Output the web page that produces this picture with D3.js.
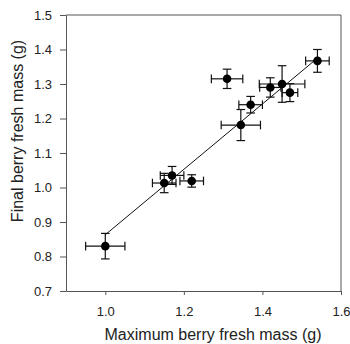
<!doctype html>
<html>
  <head>
    <script src="https://cdnjs.cloudflare.com/ajax/libs/d3/7.8.5/d3.min.js"></script>
    <style>
      body { margin: 0; background: #fff; }
      text { font-family: "Liberation Sans", Arial, sans-serif; fill: #222; }
    </style>
  </head>
  <body>
    <svg id="chart" width="350" height="344"></svg>
    <script>
        // values
        var maxMass   = [1.00, 1.15, 1.17, 1.22, 1.345, 1.37, 1.31, 1.42, 1.45, 1.47, 1.54];
        var finalMass = [0.83, 1.013, 1.035, 1.019, 1.181, 1.24, 1.315, 1.29, 1.30, 1.275, 1.367];
        var maxErr    = [0.05, 0.03, 0.03, 0.03, 0.05, 0.03, 0.04, 0.027, 0.058, 0.02, 0.03];
        var finalErr  = [0.037, 0.028, 0.026, 0.018, 0.045, 0.024, 0.028, 0.028, 0.053, 0.026, 0.033];

        // regression line
        var fitSlope = 0.948;
        var fitIntercept = -0.085;
        var fitRange = [1.0, 1.537];

        var xTicks = [1.0, 1.2, 1.4, 1.6];
        var yTicks = [0.7, 0.8, 0.9, 1.0, 1.1, 1.2, 1.3, 1.4, 1.5];

        var data = maxMass.map((d, i) => ({x: d, y: finalMass[i], ex: maxErr[i], ey: finalErr[i]}));

        var margin = {top: 15, right: 9, bottom: 53, left: 66};
        var width = 350 - margin.left - margin.right;
        var height = 344 - margin.top - margin.bottom;

        var svg = d3.select("#chart");
        var g = svg.append("g")
            .attr("transform", "translate(" + margin.left + "," + margin.top + ")");

        var xScale = d3.scaleLinear().domain([0.9, 1.6]).range([0, width]);
        var yScale = d3.scaleLinear().domain([0.7, 1.5]).range([height, 0]);

        var axisColor = "#555";

        var xAxis = d3.axisBottom(xScale)
            .tickValues(xTicks)
            .tickFormat(d3.format(".1f"))
            .tickSize(4)
            .tickPadding(12)
            .tickSizeOuter(0);

        var yAxis = d3.axisLeft(yScale)
            .tickValues(yTicks)
            .tickFormat(d3.format(".1f"))
            .tickSize(6)
            .tickPadding(8)
            .tickSizeOuter(0);

        var gx = g.append("g")
            .attr("transform", "translate(0," + height + ")")
            .call(xAxis);
        var gy = g.append("g").call(yAxis);

        [gx, gy].forEach(function(a){
            a.selectAll("path, line").attr("stroke", axisColor);
            a.selectAll("text")
                .style("font-size", "13px")
                .style("font-family", "Liberation Sans, Arial, sans-serif")
                .attr("fill", "#333");
        });

        // top and right frame
        g.append("line")
            .attr("x1", 0).attr("x2", width)
            .attr("y1", 0).attr("y2", 0)
            .attr("stroke", axisColor);
        g.append("line")
            .attr("x1", width).attr("x2", width)
            .attr("y1", 0).attr("y2", height)
            .attr("stroke", axisColor);

        // regression line
        g.append("line")
            .attr("x1", xScale(fitRange[0]))
            .attr("y1", yScale(fitIntercept + fitSlope * fitRange[0]))
            .attr("x2", xScale(fitRange[1]))
            .attr("y2", yScale(fitIntercept + fitSlope * fitRange[1]))
            .attr("stroke", "#111")
            .attr("stroke-width", 1);

        var cap = 4.3;
        var bars = g.selectAll(".err")
            .data(data)
            .enter()
            .append("g")
            .attr("class", "err")
            .attr("stroke", "#111")
            .attr("stroke-width", 1.2);

        // horizontal error bars
        bars.append("line")
            .attr("x1", d => xScale(d.x - d.ex)).attr("x2", d => xScale(d.x + d.ex))
            .attr("y1", d => yScale(d.y)).attr("y2", d => yScale(d.y));
        bars.append("line")
            .attr("x1", d => xScale(d.x - d.ex)).attr("x2", d => xScale(d.x - d.ex))
            .attr("y1", d => yScale(d.y) - cap).attr("y2", d => yScale(d.y) + cap);
        bars.append("line")
            .attr("x1", d => xScale(d.x + d.ex)).attr("x2", d => xScale(d.x + d.ex))
            .attr("y1", d => yScale(d.y) - cap).attr("y2", d => yScale(d.y) + cap);

        // vertical error bars
        bars.append("line")
            .attr("x1", d => xScale(d.x)).attr("x2", d => xScale(d.x))
            .attr("y1", d => yScale(d.y - d.ey)).attr("y2", d => yScale(d.y + d.ey));
        bars.append("line")
            .attr("x1", d => xScale(d.x) - cap).attr("x2", d => xScale(d.x) + cap)
            .attr("y1", d => yScale(d.y - d.ey)).attr("y2", d => yScale(d.y - d.ey));
        bars.append("line")
            .attr("x1", d => xScale(d.x) - cap).attr("x2", d => xScale(d.x) + cap)
            .attr("y1", d => yScale(d.y + d.ey)).attr("y2", d => yScale(d.y + d.ey));

        g.selectAll("circle")
            .data(data)
            .enter()
            .append("circle")
            .attr("cx", d => xScale(d.x))
            .attr("cy", d => yScale(d.y))
            .attr("r", 4.3)
            .style("fill", "#000");

        // axis titles
        svg.append("text")
            .attr("x", 213)
            .attr("y", 340)
            .attr("text-anchor", "middle")
            .style("font-size", "16px")
            .text("Maximum berry fresh mass (g)");

        svg.append("text")
            .attr("transform", "translate(23,131) rotate(-90)")
            .attr("text-anchor", "middle")
            .style("font-size", "16px")
            .text("Final berry fresh mass (g)");
    </script>
  </body>
</html>
